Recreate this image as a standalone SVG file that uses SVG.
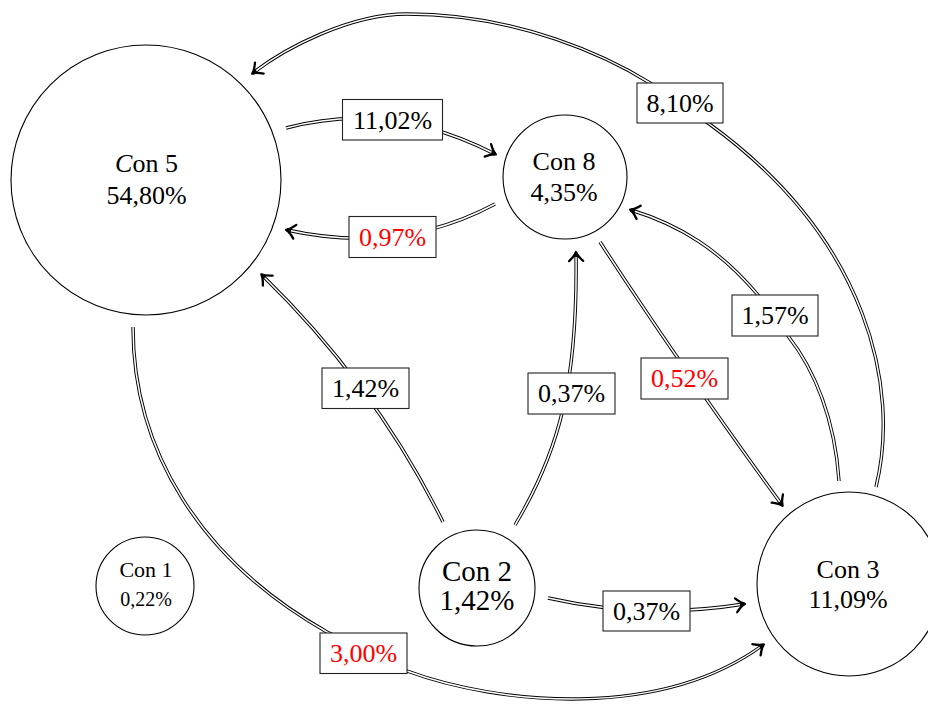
<svg xmlns="http://www.w3.org/2000/svg" width="928" height="704" viewBox="0 0 928 704">
<style>
  .node { fill: #fff; stroke: #000; stroke-width: 1.1; }
  .txt { font-family: "Liberation Serif", "Times New Roman", serif; fill: #000; text-anchor: middle; }
  .outer { fill: none; stroke: #000; stroke-width: 3.4; }
  .inner { fill: none; stroke: #fff; stroke-width: 1.5; }
  .arr { marker-end: url(#to); }
  .lbl rect { fill: #fff; stroke: #222; stroke-width: 1.1; }
  .lbl text { font-family: "Liberation Serif", "Times New Roman", serif; font-size: 26px; text-anchor: middle; fill: #000; }
  .lbl text.red { fill: #ff0000; }
</style>
<defs>
  <marker id="to" markerUnits="userSpaceOnUse" markerWidth="20" markerHeight="20" refX="0" refY="0" orient="auto" overflow="visible">
    <path d="M -4 0 L 0 0" stroke="#000" stroke-width="3.4" fill="none"/>
    <path d="M -8 -7 Q -3 -1.5 1 0 Q -3 1.5 -8 7" stroke="#000" stroke-width="2.3" fill="none" stroke-linecap="round" stroke-linejoin="round"/>
  </marker>
</defs>

<g id="connectors">
  <!-- Con5 -> Con8 : 11,02% -->
  <path class="outer" d="M 286 128 Q 390 100 495 154"/>
  <path class="inner arr" d="M 286 128 Q 390 100 495 154"/>
  <!-- Con8 -> Con5 : 0,97% -->
  <path class="outer" d="M 495 204 Q 400 255 287 230"/>
  <path class="inner arr" d="M 495 204 Q 400 255 287 230"/>
  <!-- Con3 -> Con5 : 8,10% -->
  <path class="outer" d="M 876 487 C 900 390 870 240 708 123 L 650 83 C 610 58 520 14 407 14 C 350 14 285 48 253 73"/>
  <path class="inner arr" d="M 876 487 C 900 390 870 240 708 123 L 650 83 C 610 58 520 14 407 14 C 350 14 285 48 253 73"/>
  <!-- Con3 -> Con8 : 1,57% -->
  <path class="outer" d="M 839 481 C 835 420 815 370 788 336 L 758 295 C 720 250 680 225 631 210"/>
  <path class="inner arr" d="M 839 481 C 835 420 815 370 788 336 L 758 295 C 720 250 680 225 631 210"/>
  <!-- Con8 -> Con3 : 0,52% -->
  <path class="outer" d="M 600 242 Q 680 365 782 505"/>
  <path class="inner arr" d="M 600 242 Q 680 365 782 505"/>
  <!-- Con2 -> Con5 : 1,42% -->
  <path class="outer" d="M 443 522 Q 375 385 262 275"/>
  <path class="inner arr" d="M 443 522 Q 375 385 262 275"/>
  <!-- Con2 -> Con8 : 0,37% -->
  <path class="outer" d="M 515 525 C 560 450 578 380 576 253"/>
  <path class="inner arr" d="M 515 525 C 560 450 578 380 576 253"/>
  <!-- Con2 -> Con3 : 0,37% -->
  <path class="outer" d="M 548 598 Q 645 620 744 604"/>
  <path class="inner arr" d="M 548 598 Q 645 620 744 604"/>
  <!-- Con5 -> Con3 : 3,00% -->
  <path class="outer" d="M 133 327 C 133 450 200 560 327 632 L 407 671 C 500 705 660 720 763 645"/>
  <path class="inner arr" d="M 133 327 C 133 450 200 560 327 632 L 407 671 C 500 705 660 720 763 645"/>

  <g class="lbl" id="lbl-1102"><rect x="342.5" y="99.5" width="100" height="40.5"/><text x="392.5" y="128.5">11,02%</text></g>
  <g class="lbl" id="lbl-097"><rect x="349" y="216.5" width="87" height="41"/><text class="red" x="392.5" y="245.5">0,97%</text></g>
  <g class="lbl" id="lbl-810"><rect x="637" y="83" width="86" height="40"/><text x="680" y="111.5">8,10%</text></g>
  <g class="lbl" id="lbl-157"><rect x="732" y="295" width="86" height="41"/><text x="775" y="324">1,57%</text></g>
  <g class="lbl" id="lbl-052"><rect x="641" y="358" width="87" height="41"/><text class="red" x="684.5" y="387">0,52%</text></g>
  <g class="lbl" id="lbl-142"><rect x="322" y="368" width="87" height="40.5"/><text x="365.5" y="397">1,42%</text></g>
  <g class="lbl" id="lbl-037a"><rect x="528" y="373" width="87" height="41"/><text x="571.5" y="402">0,37%</text></g>
  <g class="lbl" id="lbl-037b"><rect x="603" y="591" width="87" height="40"/><text x="646.5" y="619.5">0,37%</text></g>
  <g class="lbl" id="lbl-300"><rect x="320" y="633" width="87" height="40.5"/><text class="red" x="363.5" y="662">3,00%</text></g>
</g>

<g id="con5">
  <circle class="node" cx="146" cy="180" r="135"/>
  <text class="txt" x="146.5" y="171.5" font-size="26"><tspan font-style="italic">C</tspan>on 5</text>
  <text class="txt" x="146.5" y="203.5" font-size="26">54,80%</text>
</g>
<g id="con8">
  <circle class="node" cx="565" cy="177" r="62"/>
  <text class="txt" x="564" y="170" font-size="26">Con 8</text>
  <text class="txt" x="564" y="200.5" font-size="26">4,35%</text>
</g>
<g id="con2">
  <circle class="node" cx="477" cy="588" r="58"/>
  <text class="txt" x="477" y="581" font-size="29">Con 2</text>
  <text class="txt" x="477" y="610" font-size="29">1,42%</text>
</g>
<g id="con3">
  <circle class="node" cx="849" cy="584" r="92"/>
  <text class="txt" x="848" y="578" font-size="26">Con 3</text>
  <text class="txt" x="848" y="608" font-size="26">11,09%</text>
</g>
<g id="con1">
  <circle class="node" cx="145" cy="586" r="49"/>
  <text class="txt" x="146" y="577" font-size="22">Con 1</text>
  <text class="txt" x="146" y="606" font-size="20">0,22%</text>
</g>
</svg>
